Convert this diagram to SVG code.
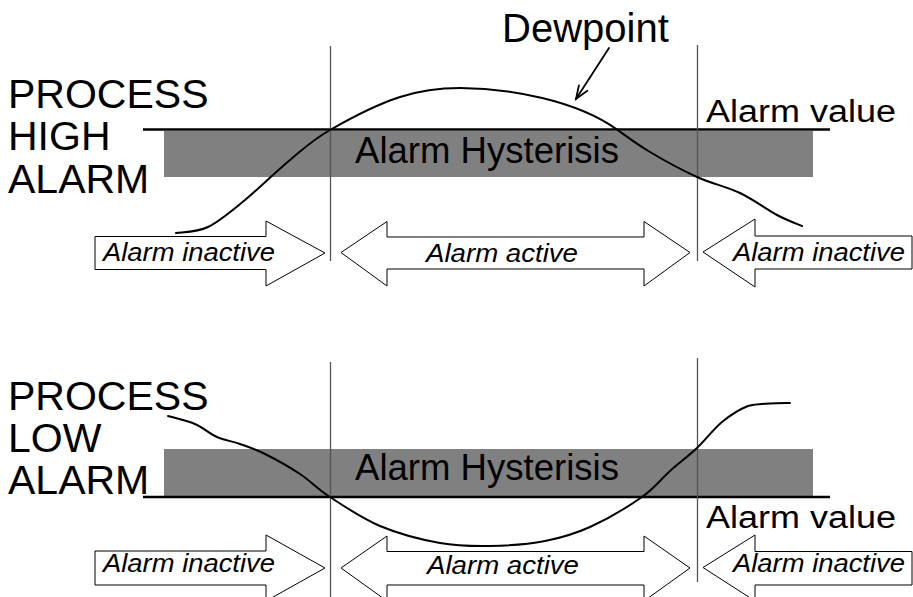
<svg xmlns="http://www.w3.org/2000/svg" width="913" height="597" viewBox="0 0 913 597">
  <style>
    .lbl { font-family: "Liberation Sans", Arial, sans-serif; fill: #000; }
    .big { font-size: 41px; }
    .dew { font-size: 40px; }
    .mid { font-size: 36px; }
    .val { font-size: 31px; }
    .it { font-size: 25px; font-style: italic; }
    .band { fill: #808080; }
    .limit { stroke: #000; stroke-width: 2.6; fill: none; }
    .marker-line { stroke: #555; stroke-width: 1.3; fill: none; }
    .curve { stroke: #000; stroke-width: 2; fill: none; stroke-linecap: round; }
    .state { fill: #fff; stroke: #000; stroke-width: 1; stroke-linejoin: miter; }
    .pointer { stroke: #000; stroke-width: 1.8; fill: none; stroke-linecap: round; }
  </style>

  <!-- Upper panel: high alarm -->
  <g id="high-alarm">
    <g id="high-title">
      <text class="lbl big" x="8" y="108">PROCESS</text>
      <text class="lbl big" x="8" y="150">HIGH</text>
      <text class="lbl big" x="8" y="193">ALARM</text>
    </g>
    <g id="high-hysteresis">
      <rect class="band" x="164" y="131" width="649" height="46"/>
      <text class="lbl mid" x="355" y="163" textLength="264" lengthAdjust="spacingAndGlyphs">Alarm Hysterisis</text>
    </g>
    <g id="high-limit">
      <line class="limit" x1="143" y1="129.5" x2="830" y2="129.5"/>
      <text class="lbl val" x="706" y="122" textLength="190" lengthAdjust="spacingAndGlyphs">Alarm value</text>
    </g>
    <g id="high-switch-points">
      <line class="marker-line" x1="330.5" y1="46" x2="330.5" y2="261"/>
      <line class="marker-line" x1="697.5" y1="45" x2="697.5" y2="261"/>
    </g>
    <g id="high-dewpoint">
      <path class="curve" d="M176,233 C181.3,232 196.5,232.5 208,227 C219.5,221.5 231.3,211.2 245,200 C258.7,188.8 275.8,171.7 290,160 C304.2,148.3 311.7,140.5 330,130 C348.3,119.5 378.3,104 400,97 C421.7,90 441.7,88 460,88 C510,88 577,100.7 617,129.5 C625.8,135.8 636.7,144.1 650,152 C663.3,159.9 682,170.2 697,177 C712,183.8 726.7,186.7 740,193 C753.3,199.3 766.7,209.5 777,215 C787.3,220.5 797.8,224.2 802,226"/>
    </g>
    <g id="dewpoint-label">
      <text class="lbl dew" x="502" y="42">Dewpoint</text>
      <line class="pointer" x1="609" y1="48" x2="576" y2="99"/>
      <polyline class="pointer" points="578.9,85.4 576,99 587.3,90.8"/>
    </g>
    <g id="high-inactive-left">
      <path class="state" d="M95,236.5 H266 V221 L325,253 L266,286 V269.5 H95 Z"/>
      <text class="lbl it" x="103" y="261" textLength="172" lengthAdjust="spacingAndGlyphs">Alarm inactive</text>
    </g>
    <g id="high-active">
      <path class="state" d="M341,252.5 L387,221.5 V237 H644 V221.5 L690,252.5 L644,286 V269 H387 V286 Z"/>
      <text class="lbl it" x="426" y="262" textLength="152" lengthAdjust="spacingAndGlyphs">Alarm active</text>
    </g>
    <g id="high-inactive-right">
      <path class="state" d="M912,236 H755 V219 L703,252 L755,287 V269 H912 Z"/>
      <text class="lbl it" x="733" y="261" textLength="172" lengthAdjust="spacingAndGlyphs">Alarm inactive</text>
    </g>
  </g>

  <!-- Lower panel: low alarm -->
  <g id="low-alarm">
    <g id="low-title">
      <text class="lbl big" x="8" y="410">PROCESS</text>
      <text class="lbl big" x="8" y="452">LOW</text>
      <text class="lbl big" x="8" y="494">ALARM</text>
    </g>
    <g id="low-hysteresis">
      <rect class="band" x="164" y="449" width="649" height="47"/>
      <text class="lbl mid" x="355" y="480" textLength="264" lengthAdjust="spacingAndGlyphs">Alarm Hysterisis</text>
    </g>
    <g id="low-limit">
      <line class="limit" x1="143" y1="497" x2="830" y2="497"/>
      <text class="lbl val" x="706" y="528" textLength="190" lengthAdjust="spacingAndGlyphs">Alarm value</text>
    </g>
    <g id="low-switch-points">
      <line class="marker-line" x1="330.5" y1="362" x2="330.5" y2="597"/>
      <line class="marker-line" x1="697.5" y1="358" x2="697.5" y2="582"/>
    </g>
    <g id="low-dewpoint">
      <path class="curve" d="M168,416 C172.5,417.3 186.8,420.5 195,424 C203.2,427.5 209.5,433.7 217,437 C224.5,440.3 232,441.2 240,444 C248,446.8 255,449 265,454 C275,459 289.2,466.8 300,474 C310.8,481.2 316.7,488.3 330,497 C343.3,505.7 361.7,518.3 380,526 C398.3,533.7 421.7,539.7 440,543 C458.3,546.3 472.5,546.3 490,546 C507.5,545.7 528.3,544.2 545,541 C561.7,537.8 573.8,534.3 590,527 C606.2,519.7 628.7,506.3 642,497 C655.3,487.7 660.8,479.2 670,471 C679.2,462.8 688.3,456.2 697,448 C705.7,439.8 713.5,429 722,422 C730.5,415 740,409.1 748,406 C756,404 763,404 770,403.5 C777,403 786.7,403.1 790,403"/>
    </g>
    <g id="low-inactive-left">
      <path class="state" d="M95,551 H266 V535 L325,568 L266,601 V585 H95 Z"/>
      <text class="lbl it" x="103" y="572" textLength="172" lengthAdjust="spacingAndGlyphs">Alarm inactive</text>
    </g>
    <g id="low-active">
      <path class="state" d="M341,568 L387,536 V551.5 H644 V536 L690,568 L644,601 V585 H387 V601 Z"/>
      <text class="lbl it" x="427" y="574" textLength="152" lengthAdjust="spacingAndGlyphs">Alarm active</text>
    </g>
    <g id="low-inactive-right">
      <path class="state" d="M912,551.5 H755 V535 L703,567.5 L755,601 V585 H912 Z"/>
      <text class="lbl it" x="733" y="572" textLength="172" lengthAdjust="spacingAndGlyphs">Alarm inactive</text>
    </g>
  </g>
</svg>
